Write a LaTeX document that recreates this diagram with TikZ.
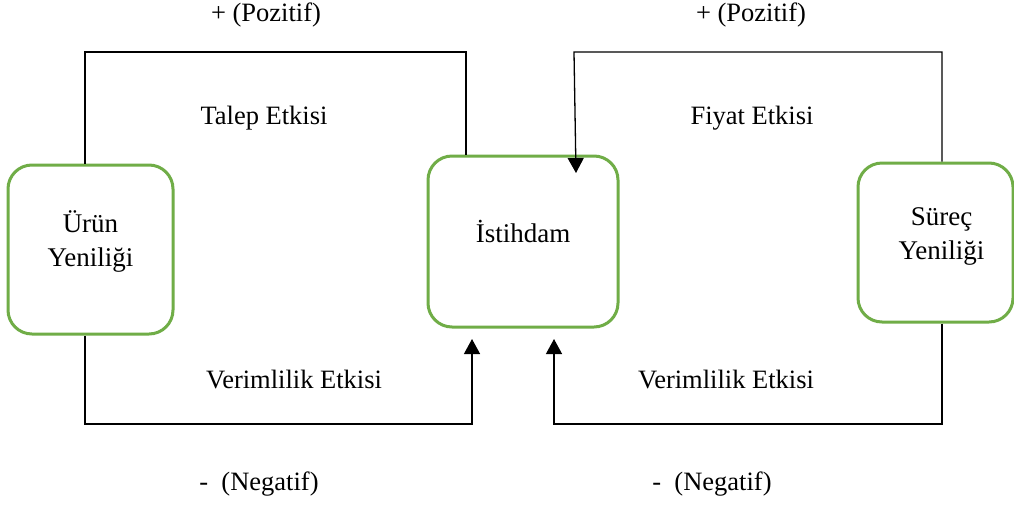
\documentclass[tikz,border=0pt]{standalone}
\usepackage{fontspec}
\setmainfont{Liberation Serif}
\usetikzlibrary{arrows.meta}
\definecolor{boxgreen}{HTML}{70AD47}
\tikzset{
  box/.style={draw=boxgreen, line width=3pt, rounded corners=24pt, align=center,
    font=\fontsize{27}{34}\selectfont, inner sep=0pt},
  conn/.style={draw=black, line width=1.3pt},
  arr/.style={conn, -{Triangle[length=15pt,width=16pt]}},
  lbl/.style={font=\fontsize{26.5}{31}\selectfont, inner sep=0pt}
}
\begin{document}
\begin{tikzpicture}[x=1pt,y=-1pt]
\useasboundingbox (0,0) rectangle (1014,504);
\fill[white] (0,0) rectangle (1014,504);
% boxes
\node[box, minimum width=165pt, minimum height=169pt, text depth=22pt] (urun) at (90.5,249.5) {Ürün\\Yeniliği};
\node[box, minimum width=190pt, minimum height=171pt, text depth=21pt] (ist) at (523,241.5) {İstihdam};
\node[box, minimum width=155pt, minimum height=159pt, text depth=18pt] (surec) at (935.5,242.5) {\hspace*{12pt}Süreç\\\hspace*{12pt}Yeniliği};
% corner coordinates
\coordinate (a1) at (85,52);
\coordinate (a2) at (466,52);
\coordinate (b1) at (574,52);
\coordinate (b2) at (942,52);
\coordinate (c1) at (85,424);
\coordinate (c2) at (472,424);
\coordinate (d1) at (554,424);
\coordinate (d2) at (942,424);
% top-left loop
\draw[conn] (urun.north -| a1) -- (a1) -- (a2) -- (ist.north -| a2);
% top-right loop
\draw[arr] (surec.north -| b2) -- (b2) -- (b1) -- (576,173);
% bottom-left loop
\draw[arr] (urun.south -| c1) -- (c1) -- (c2) -- (472,339);
% bottom-right loop
\draw[arr] (surec.south -| d2) -- (d2) -- (d1) -- (554,339);
% labels
\node[lbl] (p1) at (266,15) {+ (Pozitif)};
\node[lbl] (p2) at (751,15) {+ (Pozitif)};
\node[lbl] (t1) at (264,118) {Talep Etkisi};
\node[lbl] (t2) at (752,118) {Fiyat Etkisi};
\node[lbl] (v1) at (294,379) {Verimlilik Etkisi};
\node[lbl] (v2) at (726,379) {Verimlilik Etkisi};
\node[lbl] (n1) at (259,484) {-\ \ (Negatif)};
\node[lbl] (n2) at (712,484) {-\ \ (Negatif)};
\end{tikzpicture}
\end{document}
